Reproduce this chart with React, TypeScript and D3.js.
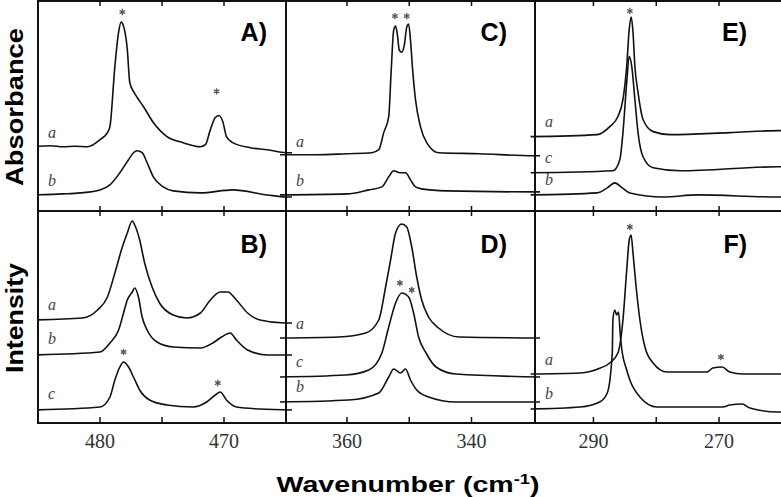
import React from "react";
import * as d3 from "d3";

// ---------- Data (wavenumber cm^-1, intensity a.u.) ----------
const A_a: [number, number][] = [[485.5,64],[484,65],[483,64],[482,64.5],[481,64],[480,71],[479.4,78],[479.2,84],[478.8,144],[478.5,178],[478.3,188],[478.1,184],[477.8,161],[477.6,128],[477.3,119],[477.0,113],[476.5,104],[475.7,88],[474.6,74],[473.3,68],[471.9,64],[471.5,66],[471.1,81],[470.7,93],[470.4,95],[470.1,89],[469.8,74],[469.3,68],[467.9,63],[466.5,61],[465,58],[464.5,58]];
const A_b: [number, number][] = [[485.5,16],[483,17],[481.6,18],[480,21],[479.2,26],[478.4,38],[477.7,51],[477.3,58],[477.0,60],[476.6,58],[476.2,48],[475.7,34],[474.9,24],[474.1,20],[471.9,18],[469.3,21],[466.5,16],[465,14],[464.5,14]];
const B_a: [number, number][] = [[485.5,103],[481.4,105],[480.2,113],[479.4,126],[478.8,150],[478.2,176],[477.8,190],[477.4,202],[477.2,198],[476.8,183],[476.4,160],[475.8,136],[475.2,120],[474.1,108],[473.0,105],[471.9,110],[471.1,123],[470.3,131],[469.7,131],[469.0,123],[468.1,110],[467.1,103],[465.1,100],[464.5,100]];
const B_b: [number, number][] = [[485.5,68],[480,71],[479.2,80],[478.5,93],[478.1,110],[477.8,123],[477.4,131],[477.2,135],[476.9,126],[476.6,106],[476.2,93],[475.4,81],[474.1,76],[471.9,75],[470.9,80],[470.2,86],[469.5,90],[469.0,83],[468.1,73],[466.5,68],[464.5,68]];
const B_c: [number, number][] = [[485.5,13],[480,16],[479.2,26],[478.8,43],[478.4,56],[478.1,61],[477.7,56],[477.3,46],[476.8,33],[476.0,23],[474.6,18],[472.5,16],[471.4,21],[470.7,28],[470.3,31],[469.8,23],[469.0,16],[467.1,14],[464.5,13]];
const C_a: [number, number][] = [[371,56],[365,56],[360,57],[356,58],[354.9,61],[354.1,78],[353.3,94],[352.9,140],[352.5,180],[352.2,184],[351.9,175],[351.6,160],[351.2,158],[350.8,165],[350.4,183],[350.1,186],[349.8,170],[349.5,144],[349.0,111],[348.2,84],[347.2,68],[345.3,58],[338.8,57],[330,55],[329,55]];
const C_b: [number, number][] = [[371,16],[360,17],[356.5,21],[354.4,24],[353.3,34],[352.5,40],[351.5,38],[350.6,38],[349.8,31],[349.0,24],[348.0,22],[344.1,20],[330,19],[329,19]];
const D_a: [number, number][] = [[371,85],[361.3,86],[357.0,90],[354.9,103],[353.8,136],[353.0,163],[352.2,190],[351.2,199],[350.4,196],[349.6,176],[348.8,146],[348.0,123],[346.9,106],[345.3,95],[342.0,86],[329,85]];
const D_c: [number, number][] = [[371,46],[360.2,48],[356.5,53],[354.4,70],[353.3,96],[352.2,120],[351.2,130],[350.1,126],[349.3,110],[348.5,86],[347.3,70],[345.7,56],[342.5,49],[329,46]];
const D_b: [number, number][] = [[371,21],[359.7,23],[354.9,30],[353.3,46],[352.5,54],[351.4,50],[350.6,54],[349.8,43],[348.8,33],[346.9,26],[342.5,21],[329,21]];
const E_a: [number, number][] = [[300,74],[289.4,76],[287.4,84],[286.1,94],[285.3,111],[284.7,144],[284.3,181],[284.0,193],[283.7,178],[283.4,144],[282.9,118],[282.1,91],[280.5,79],[277.8,76],[268.3,78],[260.3,80],[259.5,80]];
const E_c: [number, number][] = [[300,38],[286.9,40],[285.8,51],[285.3,78],[284.7,128],[284.3,154],[283.9,144],[283.4,111],[282.9,78],[282.1,54],[280.5,43],[276.2,40],[260.6,44],[259.5,44]];
const E_b: [number, number][] = [[300,16],[289.4,18],[287.8,23],[286.6,28],[285.4,23],[284.2,18],[278.9,14],[273.5,16],[260.6,14],[259.5,14]];
const F_a: [number, number][] = [[300,49],[292.1,50],[288.9,55],[287.4,60],[286.1,70],[285.3,103],[284.7,153],[284.3,183],[284.0,188],[283.7,170],[283.2,136],[282.6,103],[281.8,76],[280.5,60],[278.3,51],[271.9,51],[271.0,55],[269.5,56],[268.3,51],[266.2,49],[259.5,49]];
const F_b: [number, number][] = [[300,14],[292.1,16],[289.0,21],[287.8,30],[287.0,70],[286.9,103],[286.6,113],[286.3,108],[286.0,111],[285.7,86],[285.4,70],[284.8,55],[284.2,43],[282.6,26],[279.9,16],[269.4,16],[268.3,18],[266.3,19],[265.1,15],[260.6,11],[259.5,11]];

const A_stars: [number, number][] = [[478.2,198],[470.6,119]];
const B_stars: [number, number][] = [[478.1,71],[470.5,40]];
const C_stars: [number, number][] = [[352.3,194],[350.4,194]];
const D_stars: [number, number][] = [[351.5,140],[349.6,133]];
const E_stars: [number, number][] = [[284.2,199]];
const F_stars: [number, number][] = [[284.2,196],[269.7,66]];

const xDomains: [number, number][] = [[485, 465], [369.8, 329.8], [299.3, 260.3]];
const tickValues: number[][] = [[480, 475, 470], [360, 350, 340], [290, 280, 270]];
const tickLabels: number[][] = [[480, 470], [360, 340], [290, 270]];
const panelNames = ["A)", "B)", "C)", "D)", "E)", "F)"];
const rowTitles = ["Absorbance", "Intensity"];
const xTitle = "Wavenumber (cm";

const panels = [
  { name: panelNames[0], col: 0, row: 0, series: [{ k: "a", d: A_a }, { k: "b", d: A_b }], stars: A_stars },
  { name: panelNames[1], col: 0, row: 1, series: [{ k: "a", d: B_a }, { k: "b", d: B_b }, { k: "c", d: B_c }], stars: B_stars },
  { name: panelNames[2], col: 1, row: 0, series: [{ k: "a", d: C_a }, { k: "b", d: C_b }], stars: C_stars },
  { name: panelNames[3], col: 1, row: 1, series: [{ k: "a", d: D_a }, { k: "c", d: D_c }, { k: "b", d: D_b }], stars: D_stars },
  { name: panelNames[4], col: 2, row: 0, series: [{ k: "a", d: E_a }, { k: "c", d: E_c }, { k: "b", d: E_b }], stars: E_stars },
  { name: panelNames[5], col: 2, row: 1, series: [{ k: "a", d: F_a }, { k: "b", d: F_b }], stars: F_stars },
];

// ---------- Layout ----------
const W = 781, H = 497;
const colX = [38, 286, 535, 780];
const rowY = [0, 211, 423];
const rowMax = [210, 212];
const labelEndX = [267, 507, 747];
const labelBaseY = [41, 253];
const SANS = "'Liberation Sans', Arial, Helvetica, sans-serif";
const SERIF = "'Liberation Serif', 'Times New Roman', serif";

export default function App() {
  const xScales = xDomains.map((dom, i) => d3.scaleLinear().domain(dom).range([colX[i], colX[i + 1]]));
  const yScales = rowMax.map((m, r) => d3.scaleLinear().domain([0, m]).range([rowY[r + 1], rowY[r]]));
  const star = d3.symbol().type(d3.symbolAsterisk).size(28)()!;

  return (
    <svg width={W} height={H} style={{ position: "absolute", left: 0, top: 0, background: "#fff" }}>
      <defs>
        {panels.map((p, i) => {
          const x0 = p.col === 0 ? colX[0] : colX[p.col] - 6;
          const x1 = colX[p.col + 1] + 6;
          return (
            <clipPath id={`clip${i}`} key={i}>
              <rect x={x0} y={rowY[p.row] + 1} width={x1 - x0} height={rowY[p.row + 1] - rowY[p.row] - 2} />
            </clipPath>
          );
        })}
      </defs>

      {panels.map((p, i) => {
        const xs = xScales[p.col];
        const ys = yScales[p.row];
        const line = d3.line<[number, number]>().x((d) => xs(d[0])).y((d) => ys(d[1])).curve(d3.curveMonotoneX);
        return (
          <g key={i}>
            <g clipPath={`url(#clip${i})`}>
              {p.series.map((s) => (
                <path key={s.k} d={line(s.d) || ""} fill="none" stroke="#111" strokeWidth={1.6} strokeLinejoin="round" />
              ))}
            </g>
            {p.series.map((s) => {
              const base = s.d.find((d) => xs(d[0]) >= colX[p.col]) || s.d[0];
              return (
                <text key={"l" + s.k} x={colX[p.col] + 10} y={ys(base[1]) - 8} fontFamily={SERIF} fontStyle="italic" fontSize={16} fill="#444">
                  {s.k}
                </text>
              );
            })}
            {p.stars.map((st, j) => (
              <path key={"s" + j} d={star} transform={`translate(${xs(st[0])},${ys(st[1])})`} fill="none" stroke="#555" strokeWidth={1.3} />
            ))}
            <text x={labelEndX[p.col]} y={labelBaseY[p.row]} textAnchor="end" fontFamily={SANS} fontWeight="bold" fontSize={25} fill="#000">
              {p.name}
            </text>
          </g>
        );
      })}

      {/* frame */}
      <g stroke="#111" strokeWidth={2} fill="none">
        <line x1={colX[0]} y1={0} x2={colX[0]} y2={rowY[2] + 1} />
        <line x1={colX[1]} y1={0} x2={colX[1]} y2={rowY[2] + 1} />
        <line x1={colX[2]} y1={0} x2={colX[2]} y2={rowY[2] + 1} />
        <line x1={colX[0]} y1={rowY[0] + 1} x2={W} y2={rowY[0] + 1} />
        <line x1={colX[0]} y1={rowY[1]} x2={W} y2={rowY[1]} />
        <line x1={colX[0]} y1={rowY[2]} x2={W} y2={rowY[2]} />
      </g>

      {/* ticks */}
      {xScales.map((xs, c) => (
        <g key={"t" + c} stroke="#111" strokeWidth={1.5}>
          {tickValues[c].map((v) => (
            <g key={v}>
              <line x1={xs(v)} x2={xs(v)} y1={rowY[0]} y2={rowY[0] + 6} />
              <line x1={xs(v)} x2={xs(v)} y1={rowY[1] - 5} y2={rowY[1] + 5} />
              <line x1={xs(v)} x2={xs(v)} y1={rowY[2] - 6} y2={rowY[2]} />
            </g>
          ))}
        </g>
      ))}

      {/* tick labels */}
      {xScales.map((xs, c) =>
        tickLabels[c].map((v) => (
          <text key={`tl${c}-${v}`} x={xs(v)} y={448} textAnchor="middle" fontFamily={SERIF} fontSize={20} fill="#333">
            {v}
          </text>
        ))
      )}

      {/* axis titles */}
      <text transform="translate(408,492) scale(1.3,1)" textAnchor="middle" fontFamily={SANS} fontWeight="bold" fontSize={22} fill="#000">
        {xTitle}
        <tspan fontSize={14} dy={-8}>-1</tspan>
        <tspan dy={8}>)</tspan>
      </text>
      <text transform="translate(23,107) rotate(-90)" textAnchor="middle" fontFamily={SANS} fontWeight="bold" fontSize={24} fill="#000" textLength={158} lengthAdjust="spacingAndGlyphs">
        {rowTitles[0]}
      </text>
      <text transform="translate(23,318) rotate(-90)" textAnchor="middle" fontFamily={SANS} fontWeight="bold" fontSize={24} fill="#000" textLength={110} lengthAdjust="spacingAndGlyphs">
        {rowTitles[1]}
      </text>
    </svg>
  );
}
